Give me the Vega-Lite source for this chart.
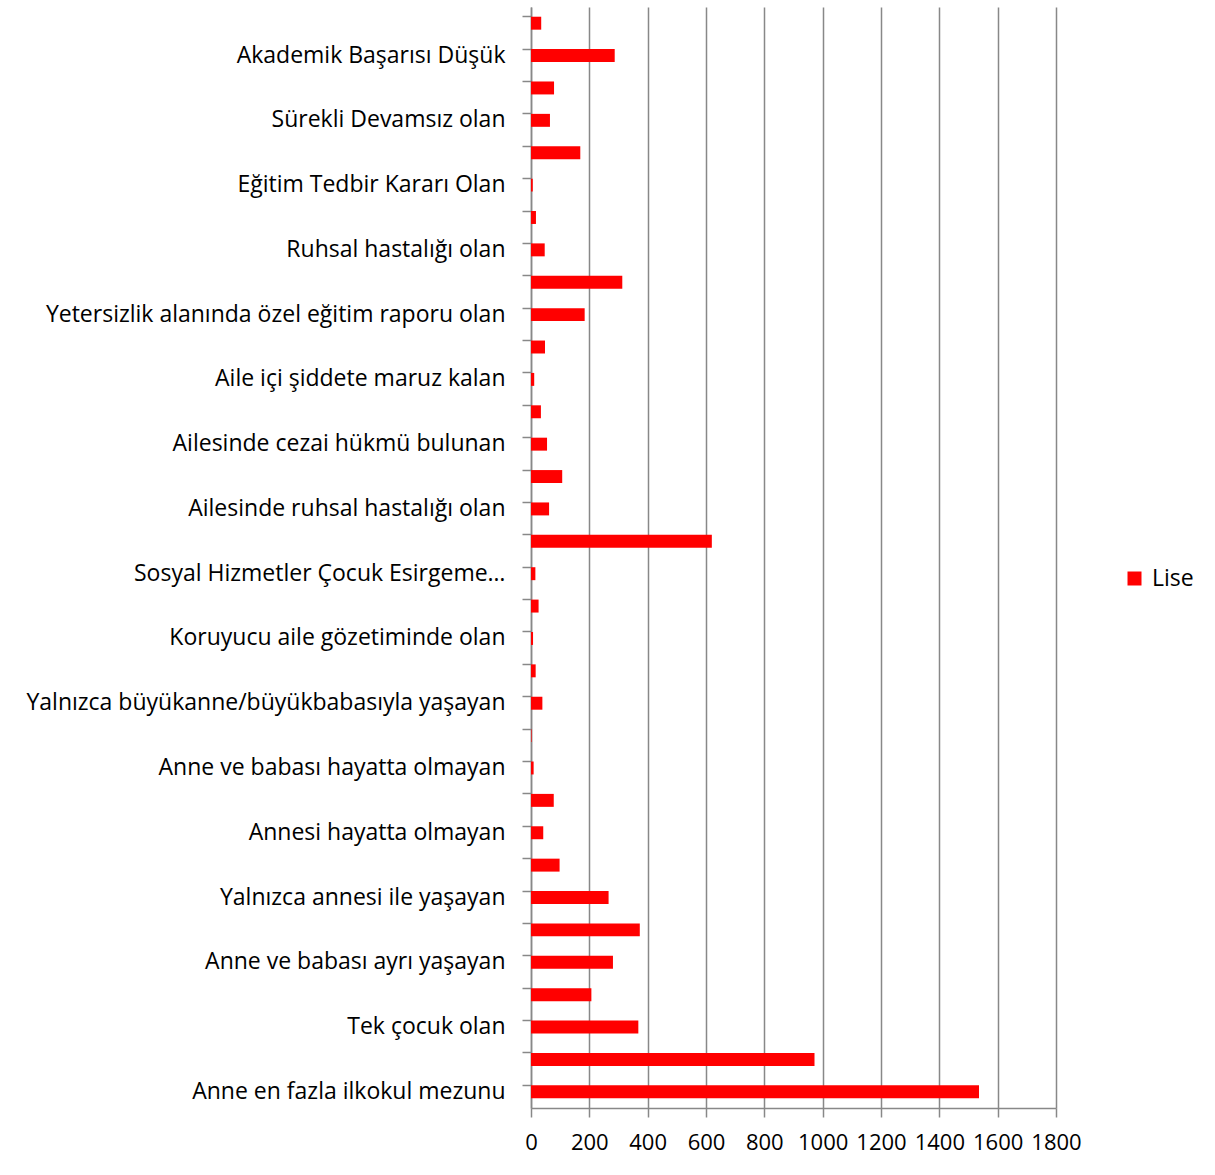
{
  "$schema": "https://vega.github.io/schema/vega-lite/v6.json",
  "width": 525,
  "height": 1101,
  "autosize": "none",
  "padding": {"left": 531, "top": 7, "right": 159, "bottom": 67},
  "background": "white",
  "data": {"values": [
    {"kategori": "Sınıf tekrarı yapan", "seviye": "Lise", "sayi": 35},
    {"kategori": "Akademik Başarısı Düşük", "seviye": "Lise", "sayi": 287},
    {"kategori": "Disiplin cezası alan", "seviye": "Lise", "sayi": 79},
    {"kategori": "Sürekli Devamsız olan", "seviye": "Lise", "sayi": 65},
    {"kategori": "Özürsüz devamsızlığı olan", "seviye": "Lise", "sayi": 169},
    {"kategori": "Eğitim Tedbir Kararı Olan", "seviye": "Lise", "sayi": 6},
    {"kategori": "Madde bağımlısı olan", "seviye": "Lise", "sayi": 17},
    {"kategori": "Ruhsal hastalığı olan", "seviye": "Lise", "sayi": 47},
    {"kategori": "Süreğen hastalığı olan", "seviye": "Lise", "sayi": 313},
    {"kategori": "Yetersizlik alanında özel eğitim raporu olan", "seviye": "Lise", "sayi": 184},
    {"kategori": "Ekonomik yoksulluk içinde olan", "seviye": "Lise", "sayi": 48},
    {"kategori": "Aile içi şiddete maruz kalan", "seviye": "Lise", "sayi": 11},
    {"kategori": "Ailesinde madde bağımlısı olan", "seviye": "Lise", "sayi": 34},
    {"kategori": "Ailesinde cezai hükmü bulunan", "seviye": "Lise", "sayi": 55},
    {"kategori": "Ailesinde süreğen hastalığı olan", "seviye": "Lise", "sayi": 107},
    {"kategori": "Ailesinde ruhsal hastalığı olan", "seviye": "Lise", "sayi": 62},
    {"kategori": "Sosyal yardım alan", "seviye": "Lise", "sayi": 620},
    {"kategori": "Sosyal Hizmetler Çocuk Esirgeme…", "seviye": "Lise", "sayi": 15},
    {"kategori": "Yetiştirme yurdunda kalan", "seviye": "Lise", "sayi": 26},
    {"kategori": "Koruyucu aile gözetiminde olan", "seviye": "Lise", "sayi": 7},
    {"kategori": "Yalnızca akrabalarıyla yaşayan", "seviye": "Lise", "sayi": 16},
    {"kategori": "Yalnızca büyükanne/büyükbabasıyla yaşayan", "seviye": "Lise", "sayi": 39},
    {"kategori": "Yalnızca kardeşleriyle yaşayan", "seviye": "Lise", "sayi": 2},
    {"kategori": "Anne ve babası hayatta olmayan", "seviye": "Lise", "sayi": 9},
    {"kategori": "Babası hayatta olmayan", "seviye": "Lise", "sayi": 78},
    {"kategori": "Annesi hayatta olmayan", "seviye": "Lise", "sayi": 42},
    {"kategori": "Yalnızca babası ile yaşayan", "seviye": "Lise", "sayi": 98},
    {"kategori": "Yalnızca annesi ile yaşayan", "seviye": "Lise", "sayi": 266},
    {"kategori": "Anne ve babası boşanmış", "seviye": "Lise", "sayi": 373},
    {"kategori": "Anne ve babası ayrı yaşayan", "seviye": "Lise", "sayi": 281},
    {"kategori": "Beş ve daha fazla kardeşi olan", "seviye": "Lise", "sayi": 207},
    {"kategori": "Tek çocuk olan", "seviye": "Lise", "sayi": 368},
    {"kategori": "Baba en fazla ilkokul mezunu", "seviye": "Lise", "sayi": 972},
    {"kategori": "Anne en fazla ilkokul mezunu", "seviye": "Lise", "sayi": 1536}
  ]},
  "mark": {"type": "bar", "color": "#FF0000"},
  "encoding": {
    "y": {
      "field": "kategori",
      "type": "nominal",
      "sort": null,
      "scale": {"paddingInner": 0.6, "paddingOuter": 0.3},
      "axis": {
        "title": null,
        "labelExpr": "indexof(['Akademik Başarısı Düşük','Sürekli Devamsız olan','Eğitim Tedbir Kararı Olan','Ruhsal hastalığı olan','Yetersizlik alanında özel eğitim raporu olan','Aile içi şiddete maruz kalan','Ailesinde cezai hükmü bulunan','Ailesinde ruhsal hastalığı olan','Sosyal Hizmetler Çocuk Esirgeme…','Koruyucu aile gözetiminde olan','Yalnızca büyükanne/büyükbabasıyla yaşayan','Anne ve babası hayatta olmayan','Annesi hayatta olmayan','Yalnızca annesi ile yaşayan','Anne ve babası ayrı yaşayan','Tek çocuk olan','Anne en fazla ilkokul mezunu'], datum.value) >= 0 ? datum.label : ''",
        "ticks": true,
        "bandPosition": 0,
        "tickColor": "#888888",
        "tickWidth": 1.5,
        "tickSize": 9,
        "domain": true,
        "domainColor": "#888888",
        "domainWidth": 1.5,
        "grid": false,
        "labelFont": "Open Sans",
        "labelFontSize": 23,
        "labelColor": "#000000",
        "labelPadding": 17,
        "labelLimit": 700
      }
    },
    "x": {
      "field": "sayi",
      "type": "quantitative",
      "scale": {"domain": [0, 1800], "nice": false, "zero": true},
      "axis": {
        "title": null,
        "values": [0, 200, 400, 600, 800, 1000, 1200, 1400, 1600, 1800],
        "format": "d",
        "grid": true,
        "gridColor": "#888888",
        "gridWidth": 1.5,
        "domainColor": "#888888",
        "domainWidth": 1.5,
        "tickColor": "#888888",
        "tickWidth": 1.5,
        "tickSize": 9,
        "labelFont": "Open Sans",
        "labelFontSize": 22,
        "labelColor": "#000000",
        "labelPadding": 15,
        "labelFlush": false
      }
    },
    "color": {
      "field": "seviye",
      "type": "nominal",
      "scale": {"range": ["#FF0000"]},
      "legend": {
        "title": null,
        "orient": "none",
        "legendX": 592,
        "legendY": 560,
        "symbolType": "square",
        "symbolSize": 196,
        "symbolStrokeWidth": 0,
        "labelFont": "Open Sans",
        "labelFontSize": 23,
        "labelColor": "#000000",
        "labelOffset": 6
      }
    }
  },
  "config": {
    "view": {"stroke": null}
  }
}
